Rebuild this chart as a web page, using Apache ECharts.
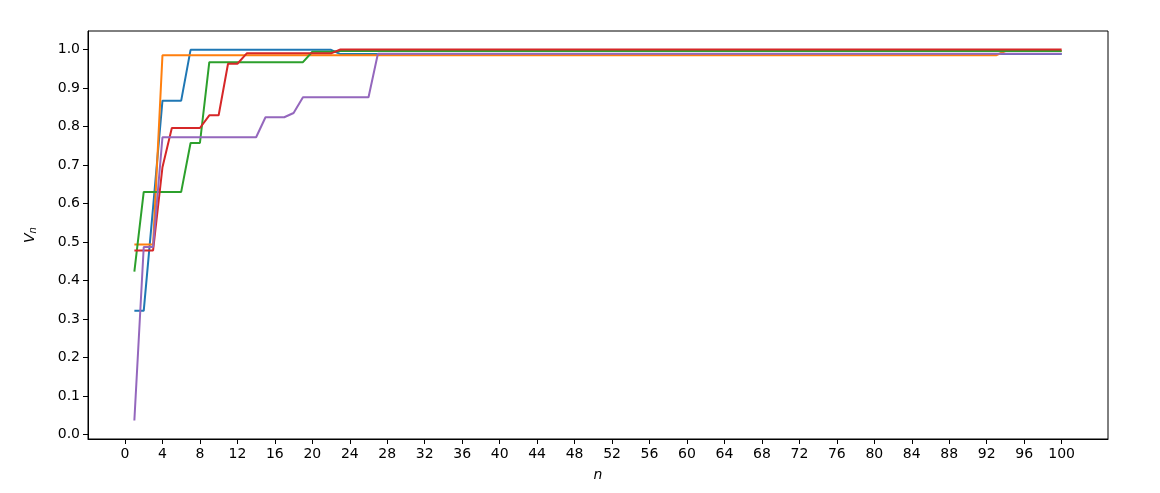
<!doctype html>
<html><head><meta charset="utf-8" />
<style>html,body,#app{margin:0;padding:0;width:1160px;height:493px;background:#fff}</style>
</head><body><div id="app"></div>
<script src="https://cdn.jsdelivr.net/npm/echarts@6.0.0/dist/echarts.min.js"></script>
<script>
// n = 1..100
const nVals = [
  1,2,3,4,5,6,7,8,9,10, 11,12,13,14,15,16,17,18,19,20,
  21,22,23,24,25,26,27,28,29,30, 31,32,33,34,35,36,37,38,39,40,
  41,42,43,44,45,46,47,48,49,50, 51,52,53,54,55,56,57,58,59,60,
  61,62,63,64,65,66,67,68,69,70, 71,72,73,74,75,76,77,78,79,80,
  81,82,83,84,85,86,87,88,89,90, 91,92,93,94,95,96,97,98,99,100
];
const blueVals = [
  0.321,0.321,0.590,0.867,0.867,0.867,0.999,0.999,0.999,0.999,
  0.999,0.999,0.999,0.999,0.999,0.999,0.999,0.999,0.999,0.999,
  0.999,0.999,0.988,0.988,0.988,0.988,0.988,0.988,0.988,0.988,
  0.988,0.988,0.988,0.988,0.988,0.988,0.988,0.988,0.988,0.988,
  0.988,0.988,0.988,0.988,0.988,0.988,0.988,0.988,0.988,0.988,
  0.988,0.988,0.988,0.988,0.988,0.988,0.988,0.988,0.988,0.988,
  0.988,0.988,0.988,0.988,0.988,0.988,0.988,0.988,0.988,0.988,
  0.988,0.988,0.988,0.988,0.988,0.988,0.988,0.988,0.988,0.988,
  0.988,0.988,0.988,0.988,0.988,0.988,0.988,0.988,0.988,0.988,
  0.988,0.988,0.988,0.988,0.988,0.988,0.988,0.988,0.988,0.988
];
const orangeVals = [
  0.493,0.493,0.493,0.985,0.985,0.985,0.985,0.985,0.985,0.985,
  0.985,0.985,0.985,0.985,0.985,0.985,0.985,0.985,0.985,0.985,
  0.985,0.985,0.985,0.985,0.985,0.985,0.985,0.985,0.985,0.985,
  0.985,0.985,0.985,0.985,0.985,0.985,0.985,0.985,0.985,0.985,
  0.985,0.985,0.985,0.985,0.985,0.985,0.985,0.985,0.985,0.985,
  0.985,0.985,0.985,0.985,0.985,0.985,0.985,0.985,0.985,0.985,
  0.985,0.985,0.985,0.985,0.985,0.985,0.985,0.985,0.985,0.985,
  0.985,0.985,0.985,0.985,0.985,0.985,0.985,0.985,0.985,0.985,
  0.985,0.985,0.985,0.985,0.985,0.985,0.985,0.985,0.985,0.985,
  0.985,0.985,0.985,0.996,0.996,0.996,0.996,0.996,0.996,0.996
];
const greenVals = [
  0.423,0.630,0.630,0.630,0.630,0.630,0.757,0.757,0.967,0.967,
  0.967,0.967,0.967,0.967,0.967,0.967,0.967,0.967,0.967,0.994,
  0.994,0.994,0.996,0.996,0.996,0.996,0.996,0.996,0.996,0.996,
  0.996,0.996,0.996,0.996,0.996,0.996,0.996,0.996,0.996,0.996,
  0.996,0.996,0.996,0.996,0.996,0.996,0.996,0.996,0.996,0.996,
  0.996,0.996,0.996,0.996,0.996,0.996,0.996,0.996,0.996,0.996,
  0.996,0.996,0.996,0.996,0.996,0.996,0.996,0.996,0.996,0.996,
  0.996,0.996,0.996,0.996,0.996,0.996,0.996,0.996,0.996,0.996,
  0.996,0.996,0.996,0.996,0.996,0.996,0.996,0.996,0.996,0.996,
  0.996,0.996,0.996,0.996,0.996,0.996,0.996,0.996,0.996,0.996
];
const redVals = [
  0.478,0.478,0.478,0.694,0.796,0.796,0.796,0.796,0.829,0.829,
  0.963,0.963,0.990,0.990,0.990,0.990,0.990,0.990,0.990,0.990,
  0.990,0.990,1.000,1.000,1.000,1.000,1.000,1.000,1.000,1.000,
  1.000,1.000,1.000,1.000,1.000,1.000,1.000,1.000,1.000,1.000,
  1.000,1.000,1.000,1.000,1.000,1.000,1.000,1.000,1.000,1.000,
  1.000,1.000,1.000,1.000,1.000,1.000,1.000,1.000,1.000,1.000,
  1.000,1.000,1.000,1.000,1.000,1.000,1.000,1.000,1.000,1.000,
  1.000,1.000,1.000,1.000,1.000,1.000,1.000,1.000,1.000,1.000,
  1.000,1.000,1.000,1.000,1.000,1.000,1.000,1.000,1.000,1.000,
  1.000,1.000,1.000,1.000,1.000,1.000,1.000,1.000,1.000,1.000
];
const purpleVals = [
  0.036,0.487,0.487,0.772,0.772,0.772,0.772,0.772,0.772,0.772,
  0.772,0.772,0.772,0.772,0.824,0.824,0.824,0.835,0.876,0.876,
  0.876,0.876,0.876,0.876,0.876,0.876,0.989,0.989,0.989,0.989,
  0.989,0.989,0.989,0.989,0.989,0.989,0.989,0.989,0.989,0.989,
  0.989,0.989,0.989,0.989,0.989,0.989,0.989,0.989,0.989,0.989,
  0.989,0.989,0.989,0.989,0.989,0.989,0.989,0.989,0.989,0.989,
  0.989,0.989,0.989,0.989,0.989,0.989,0.989,0.989,0.989,0.989,
  0.989,0.989,0.989,0.989,0.989,0.989,0.989,0.989,0.989,0.989,
  0.989,0.989,0.989,0.989,0.989,0.989,0.989,0.989,0.989,0.989,
  0.989,0.989,0.989,0.989,0.989,0.989,0.989,0.989,0.989,0.989
];
const xTicks = [0,4,8,12,16,20,24,28,32,36,40,44,48,52,56,60,64,68,72,76,80,84,88,92,96,100];
const yTicks = [0,0.1,0.2,0.3,0.4,0.5,0.6,0.7,0.8,0.9,1.0];

(function(){
  const chart = echarts.init(document.getElementById('app'), null, { renderer: 'canvas' });
  const font = 'DejaVu Sans';
  const colors = ['#1f77b4','#ff7f0e','#2ca02c','#d62728','#9467bd'];
  const all = [blueVals, orangeVals, greenVals, redVals, purpleVals];
  const series = all.map((vals, k) => ({
    type: 'line',
    data: nVals.map((n, i) => [n, vals[i]]),
    symbol: 'none',
    lineStyle: { color: colors[k], width: 2 },
    z: 2 + k
  }));
  const axisCommon = {
    axisLine: { show: true, onZero: false, lineStyle: { color: '#000', width: 1 } },
    axisTick: { show: true, length: 5, lineStyle: { color: '#000', width: 1 } },
    splitLine: { show: false },
    nameTextStyle: { color: '#000', fontFamily: font }
  };
  chart.setOption({
    animation: false,
    backgroundColor: '#fff',
    grid: { left: 88, right: 52, top: 31, bottom: 54, show: true, borderColor: '#000', borderWidth: 1, backgroundColor: 'transparent' },
    xAxis: Object.assign({}, axisCommon, {
      type: 'value', min: -3.95, max: 104.95,
      axisTick: Object.assign({}, axisCommon.axisTick, { customValues: xTicks }),
      axisLabel: { customValues: xTicks, color: '#000', fontFamily: font, fontSize: 14, margin: 8 },
      name: 'n', nameLocation: 'middle', nameGap: 29,
      nameTextStyle: { color: '#000', fontFamily: font, fontSize: 14, fontStyle: 'italic' }
    }),
    yAxis: Object.assign({}, axisCommon, {
      type: 'value', min: -0.012, max: 1.048,
      axisTick: Object.assign({}, axisCommon.axisTick, { customValues: yTicks }),
      axisLabel: { customValues: yTicks, color: '#000', fontFamily: font, fontSize: 14, margin: 8,
        formatter: v => v.toFixed(1) },
      name: '{v|V}{s|n}', nameLocation: 'middle', nameRotate: 90, nameGap: 50,
      nameTextStyle: { color: '#000', fontFamily: font,
        rich: {
          v: { fontSize: 14, fontStyle: 'italic', fontFamily: font, color: '#000' },
          s: { fontSize: 10, fontStyle: 'italic', fontFamily: font, color: '#000', padding: [6, 0, 0, 0] }
        } }
    }),
    series: series
  });
})();
</script></body></html>
